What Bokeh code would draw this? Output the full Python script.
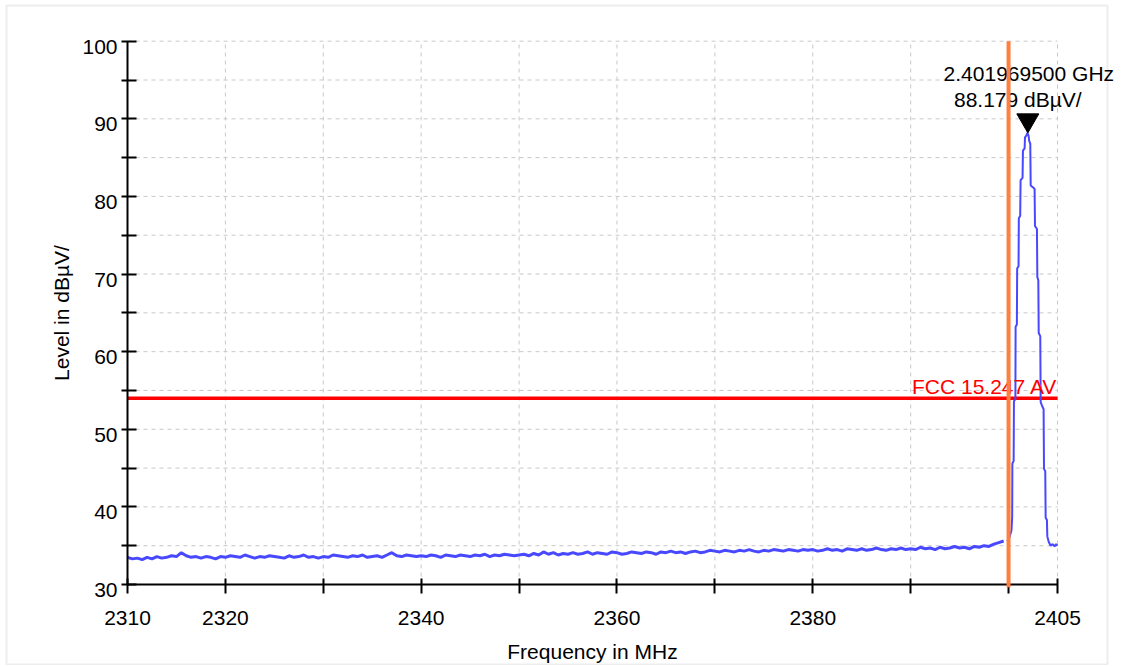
import numpy as np
from bokeh.plotting import figure
from bokeh.models import (Range1d, FixedTicker, Label, LinearAxis,
                          ColumnDataSource, BoxAnnotation)
from bokeh.core.properties import value
from bokeh.embed import file_html
from bokeh.resources import INLINE

FONT = "Liberation Sans"

# ---------------- data ----------------
x_tick_values = [2310, 2320, 2330, 2340, 2350, 2360, 2370, 2380, 2390, 2400, 2405]
x_tick_labels = ["2310", "2320", "", "2340", "", "2360", "", "2380", "", "", "2405"]
y_tick_values = [30, 35, 40, 45, 50, 55, 60, 65, 70, 75, 80, 85, 90, 95, 100]
y_tick_labels = ["30", "", "40", "", "50", "", "60", "", "70", "", "80", "", "90", "", "100"]

noise_start = 2310.0
noise_step = 0.5
noise_level = [
    33.5, 33.3, 33.4, 33.2, 33.5, 33.3, 33.6, 33.4, 33.5, 33.7, 33.6, 34.1, 33.7, 33.5, 33.6, 33.4, 33.6, 33.5, 33.3, 33.6,
    33.5, 33.7, 33.6, 33.5, 33.8, 33.6, 33.4, 33.6, 33.5, 33.7, 33.6, 33.5, 33.4, 33.7, 33.5, 33.6, 33.8, 33.5, 33.6, 33.4,
    33.6, 33.5, 33.8, 33.7, 33.6, 33.5, 33.7, 33.6, 33.8, 33.5, 33.6, 33.7, 33.5, 33.8, 34.1, 33.7, 33.6, 33.8, 33.7, 33.6,
    33.7, 33.6, 33.8, 33.7, 33.5, 33.8, 33.7, 33.6, 33.8, 33.7, 33.6, 33.8, 33.7, 33.9, 33.6, 33.8, 33.7, 33.9, 33.8, 33.7,
    33.8, 33.9, 33.7, 34.0, 33.8, 34.2, 33.9, 34.1, 33.8, 34.0, 33.9, 34.1, 33.9, 34.0, 34.2, 33.9, 34.1, 34.0, 33.9, 34.2,
    34.1, 33.9, 34.0, 34.2, 34.1, 34.0, 34.2, 34.1, 33.9, 34.2, 34.1, 34.3, 34.1, 34.2, 34.0, 34.2, 34.3, 34.1, 34.2, 34.4,
    34.3, 34.2, 34.4, 34.3, 34.2, 34.4, 34.3, 34.5, 34.3, 34.2, 34.4, 34.3, 34.5, 34.4, 34.3, 34.5, 34.4, 34.3, 34.5, 34.4,
    34.5, 34.3, 34.4, 34.6, 34.4, 34.5, 34.3, 34.6, 34.5, 34.4, 34.6, 34.4, 34.5, 34.7, 34.5, 34.4, 34.6, 34.5, 34.7, 34.5,
    34.6, 34.5, 34.8, 34.6, 34.7, 34.5, 34.8, 34.6, 34.7, 34.9, 34.7, 34.8, 34.6, 34.9, 34.8, 35.0, 34.9, 35.2, 35.4, 35.6,
]
peak_freq = [2399.85, 2400.05, 2400.30, 2400.37, 2400.39, 2400.52, 2400.55, 2400.70, 2400.72, 2400.85,
             2400.88, 2401.02, 2401.05, 2401.19, 2401.23, 2401.43, 2401.47, 2401.64, 2401.68, 2401.80,
             2401.93, 2402.05, 2402.10, 2402.22, 2402.26, 2402.66, 2402.70, 2402.90, 2402.94, 2403.04,
             2403.08, 2403.24, 2403.28, 2403.43, 2403.58, 2403.62, 2403.75, 2403.79, 2403.92, 2403.96,
             2404.10, 2404.30, 2404.50, 2404.70, 2404.85, 2405.00]
peak_level = [35.6, 35.9, 37.0, 38.7, 45.6, 45.9, 53.6, 53.9, 63.2, 63.5,
              70.7, 71.0, 77.2, 77.5, 82.1, 82.4, 85.9, 86.2, 87.6, 87.8,
              88.18, 87.8, 87.2, 86.8, 81.4, 81.0, 76.2, 75.8, 69.6, 69.2,
              62.4, 62.0, 53.5, 53.0, 52.6, 44.9, 44.6, 38.6, 38.3, 36.2,
              35.5, 35.0, 35.2, 34.9, 35.2, 35.0]

limit_freq = [2310, 2405]
limit_level = [54, 54]
limit_name = "FCC 15.247 AV"
display_line_freq = 2400
marker_freq = 2401.9695
marker_level = 88.179
marker_text_freq = "2.401969500 GHz"
marker_text_level = "88.179 dBµV/"

X_MIN, X_MAX = 2310, 2405
Y_MIN, Y_MAX = 30, 100

# ---------------- layout (pixels) ----------------
W, H = 1120, 665
AX_LEFT, AX_RIGHT = 127, 1057      # screen x of X_MIN / X_MAX
AX_TOP, AX_BOTTOM = 40.7, 584      # screen y of Y_MAX / Y_MIN
ppx = (AX_RIGHT - AX_LEFT) / (X_MAX - X_MIN)
ppy = (AX_BOTTOM - AX_TOP) / (Y_MAX - Y_MIN)
x_range = Range1d(X_MIN - AX_LEFT / ppx, X_MAX + (W - AX_RIGHT) / ppx)
y_range = Range1d(Y_MIN - (H - AX_BOTTOM) / ppy, Y_MAX + AX_TOP / ppy)

trace_freq = list(noise_start + noise_step * np.arange(len(noise_level)))
trace_level = list(noise_level)

p = figure(width=W, height=H, output_backend="svg", toolbar_location=None,
           x_range=x_range, y_range=y_range, x_axis_location=None, y_axis_location=None,
           min_border_left=0, min_border_right=0, min_border_top=0, min_border_bottom=0,
           title=None)
p.outline_line_color = None
p.background_fill_color = "white"
p.border_fill_color = "white"
p.grid.visible = False

# outer frame
p.add_layout(BoxAnnotation(left=6, right=1107, top=5, bottom=664,
                           left_units="canvas", right_units="canvas",
                           top_units="canvas", bottom_units="canvas",
                           fill_color=None, line_color="#c4c4c4", line_width=2,
                           level="underlay"))

# dashed grid from the tick arrays
gx = [v for v in x_tick_values if v > X_MIN]
gy = [v for v in y_tick_values if v > Y_MIN]
p.segment(x0=gx, x1=gx, y0=[Y_MIN] * len(gx), y1=[Y_MAX] * len(gx),
          line_color="#c8c8c8", line_dash="4 4", line_width=1)
p.segment(x0=[X_MIN] * len(gy), x1=[X_MAX] * len(gy), y0=gy, y1=gy,
          line_color="#c8c8c8", line_dash="4 4", line_width=1)

# axes drawn at the data origin
xaxis = LinearAxis(fixed_location=Y_MIN, bounds=(X_MIN, X_MAX),
                   ticker=FixedTicker(ticks=x_tick_values),
                   major_label_overrides={v: t for v, t in zip(x_tick_values, x_tick_labels)})
yaxis = LinearAxis(fixed_location=X_MIN, bounds=(Y_MIN, Y_MAX),
                   ticker=FixedTicker(ticks=y_tick_values),
                   major_label_overrides={v: "" for v in y_tick_values})
for ax in (xaxis, yaxis):
    ax.axis_line_color = "black"
    ax.axis_line_width = 2
    ax.major_tick_line_color = "black"
    ax.major_tick_line_width = 2
    ax.minor_tick_line_color = None
    ax.major_label_text_font = FONT
    ax.major_label_text_font_size = "21px"
    ax.major_label_text_color = "black"
    ax.axis_label_text_font = FONT
    ax.axis_label_text_font_size = "21px"
    ax.axis_label_text_font_style = "normal"
    ax.axis_label_text_color = "black"
xaxis.major_tick_in = 6
xaxis.major_tick_out = 9
xaxis.major_label_standoff = 17
xaxis.axis_label = "Frequency in MHz"
xaxis.axis_label_standoff = 12
yaxis.major_tick_in = 9
yaxis.major_tick_out = 6
yaxis.major_label_text_color = None
yaxis.axis_label = "Level in dBµV/"
yaxis.axis_label_standoff = 49
p.add_layout(xaxis, "below")
p.add_layout(yaxis, "left")

# y tick labels (hang slightly below their ticks as in the reference)
ylab_src = ColumnDataSource(dict(
    x=[X_MIN] * len([t for t in y_tick_labels if t]),
    y=[v for v, t in zip(y_tick_values, y_tick_labels) if t],
    text=[t for t in y_tick_labels if t]))
p.text(x="x", y="y", text="text", source=ylab_src, x_offset=-10, y_offset=5.6,
       text_align="right", text_baseline="middle", text_font=value(FONT),
       text_font_size="21px", text_color="black")

# limit line
p.line(limit_freq, limit_level, line_color="#ff0000", line_width=3.5)

# trace: noise floor and carrier
p.line(trace_freq, trace_level, line_color="#4848ff", line_width=3)
p.line(peak_freq, peak_level, line_color="#4848ff", line_width=2)

# marker
p.scatter([marker_freq], [marker_level + 1.64], marker="inverted_triangle", size=22,
          fill_color="black", line_color="black")

p.add_layout(Label(x=limit_freq[-1], y=limit_level[-1], text=limit_name, text_align="right",
                   text_baseline="middle", y_offset=12, text_font=FONT, text_font_size="21px",
                   text_color="#ff0000"))
p.add_layout(Label(x=marker_freq, y=marker_level, text=marker_text_freq, text_align="center",
                   text_baseline="middle", x_offset=1, y_offset=59, text_font=FONT,
                   text_font_size="21px", text_color="black"))
p.add_layout(Label(x=marker_freq, y=marker_level, text=marker_text_level, text_align="center",
                   text_baseline="middle", x_offset=-10, y_offset=33.5, text_font=FONT,
                   text_font_size="21px", text_color="black"))

# display line (drawn on top of everything)
p.line([display_line_freq, display_line_freq], [Y_MIN - 0.35, Y_MAX], line_color="#ff7f40",
       line_width=4, level="overlay")

open("out.html", "w").write(file_html(p, INLINE))
